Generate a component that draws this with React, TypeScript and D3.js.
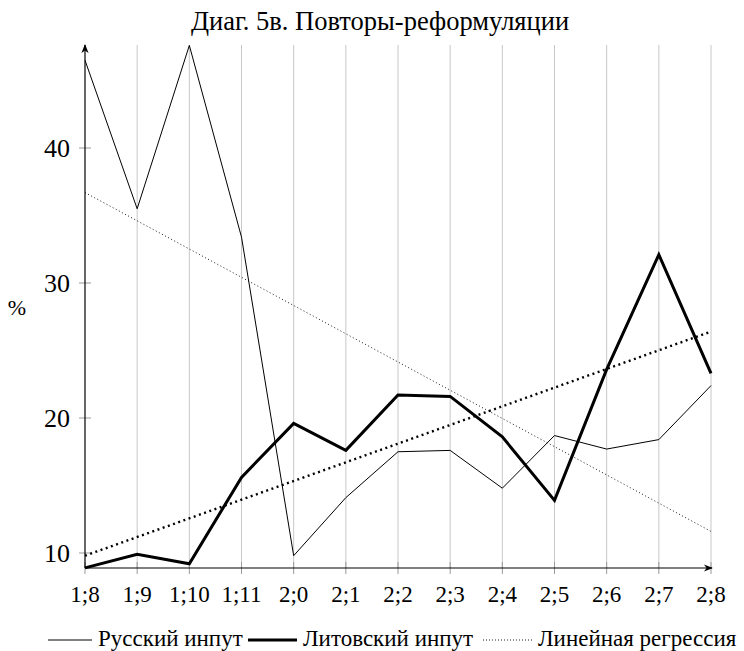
import { useEffect, useRef } from 'react'
import * as d3 from 'd3'

// Ages (years;months) along the x axis
const ages = ['1;8', '1;9', '1;10', '1;11', '2;0', '2;1', '2;2', '2;3', '2;4', '2;5', '2;6', '2;7', '2;8']

// Share of repetition-reformulations, %
const russian = [46.5, 35.5, 47.6, 33.4, 9.8, 14.1, 17.5, 17.6, 14.8, 18.7, 17.7, 18.4, 22.4]
const lithuanian = [8.9, 9.9, 9.2, 15.6, 19.6, 17.6, 21.7, 21.6, 18.6, 13.9, 23.6, 32.1, 23.3]

// Regression lines, read at the first and last age
const russianTrend = [36.7, 11.6]
const lithuanianTrend = [9.8, 26.4]

const yTicks = [10, 20, 30, 40]

const title = 'Диаг. 5в. Повторы-реформуляции'
const legendItems = ['Русский инпут', 'Литовский инпут', 'Линейная регрессия']

const FONT = '"Liberation Serif", "DejaVu Serif", serif'

export default function App() {
  const svgRef = useRef<SVGSVGElement | null>(null)

  useEffect(() => {
    if (!svgRef.current) return
    const width = 744
    const height = 651

    const svg = d3.select(svgRef.current)
    svg.selectAll('*').remove()
    svg.attr('width', width).attr('height', height).attr('viewBox', `0 0 ${width} ${height}`)

    const x = d3.scalePoint<string>().domain(ages).range([85, 711])
    const y = d3.scaleLinear().domain([10, 40]).range([553, 148])
    const yBottom = 568
    const yTop = 45

    const defs = svg.append('defs')
    defs.append('marker')
      .attr('id', 'arrow')
      .attr('viewBox', '0 0 10 10')
      .attr('refX', 9).attr('refY', 5)
      .attr('markerWidth', 9).attr('markerHeight', 9)
      .attr('markerUnits', 'userSpaceOnUse')
      .attr('orient', 'auto')
      .append('path')
      .attr('d', 'M0,1 L10,5 L0,9 L3,5 Z')
      .attr('fill', '#000')

    // Title
    svg.append('text')
      .attr('x', 380).attr('y', 30)
      .attr('text-anchor', 'middle')
      .attr('font-family', FONT)
      .attr('font-size', 26.5)
      .text(title)

    // Vertical grid
    svg.append('g')
      .selectAll('line')
      .data(ages.slice(1))
      .enter().append('line')
      .attr('x1', d => x(d)!).attr('x2', d => x(d)!)
      .attr('y1', yTop).attr('y2', yBottom)
      .attr('stroke', '#c8c8c8')
      .attr('stroke-width', 1)

    // Ticks
    svg.append('g')
      .selectAll('line')
      .data(yTicks)
      .enter().append('line')
      .attr('x1', 79).attr('x2', 91)
      .attr('y1', d => y(d)).attr('y2', d => y(d))
      .attr('stroke', '#999')
    svg.append('g')
      .selectAll('line')
      .data(ages)
      .enter().append('line')
      .attr('x1', d => x(d)!).attr('x2', d => x(d)!)
      .attr('y1', yBottom - 6).attr('y2', yBottom + 6)
      .attr('stroke', '#999')

    // Axes
    svg.append('line')
      .attr('x1', 85).attr('x2', 85)
      .attr('y1', yBottom).attr('y2', yTop)
      .attr('stroke', '#000').attr('stroke-width', 1.2)
      .attr('marker-end', 'url(#arrow)')
    svg.append('line')
      .attr('x1', 85).attr('x2', 712)
      .attr('y1', yBottom).attr('y2', yBottom)
      .attr('stroke', '#000').attr('stroke-width', 1.2)
      .attr('marker-end', 'url(#arrow)')

    // Tick labels
    svg.append('g')
      .selectAll('text')
      .data(yTicks)
      .enter().append('text')
      .attr('x', 70).attr('y', d => y(d))
      .attr('dy', '0.34em')
      .attr('text-anchor', 'end')
      .attr('font-family', FONT)
      .attr('font-size', 26)
      .text(d => d)
    svg.append('g')
      .selectAll('text')
      .data(ages)
      .enter().append('text')
      .attr('x', d => x(d)!).attr('y', 602)
      .attr('text-anchor', 'middle')
      .attr('font-family', FONT)
      .attr('font-size', 23)
      .text(d => d)

    svg.append('text')
      .attr('x', 17).attr('y', 315)
      .attr('text-anchor', 'middle')
      .attr('font-family', FONT)
      .attr('font-size', 22)
      .text('%')

    const line = d3.line<number>()
      .x((_, i) => x(ages[i])!)
      .y(d => y(d))

    const trendLine = d3.line<number>()
      .x((_, i) => (i === 0 ? x(ages[0])! : x(ages[ages.length - 1])!))
      .y(d => y(d))

    svg.append('path')
      .attr('d', trendLine(russianTrend)!)
      .attr('fill', 'none')
      .attr('stroke', '#000')
      .attr('stroke-width', 0.9)
      .attr('stroke-dasharray', '1,2.5')

    svg.append('path')
      .attr('d', trendLine(lithuanianTrend)!)
      .attr('fill', 'none')
      .attr('stroke', '#000')
      .attr('stroke-width', 2.4)
      .attr('stroke-dasharray', '2,3.5')

    svg.append('path')
      .attr('d', line(russian)!)
      .attr('fill', 'none')
      .attr('stroke', '#000')
      .attr('stroke-width', 1)

    svg.append('path')
      .attr('d', line(lithuanian)!)
      .attr('fill', 'none')
      .attr('stroke', '#000')
      .attr('stroke-width', 3)
      .attr('stroke-linejoin', 'miter')

    // Legend
    const legendY = 646
    const samples = [
      { x1: 48, x2: 92, w: 1, dash: null as string | null, tx: 98 },
      { x1: 248, x2: 297, w: 3, dash: null as string | null, tx: 303 },
      { x1: 483, x2: 532, w: 0.9, dash: '1,2', tx: 538 },
    ]
    const lg = svg.append('g')
    samples.forEach((s, i) => {
      const l = lg.append('line')
        .attr('x1', s.x1).attr('x2', s.x2)
        .attr('y1', legendY - 6).attr('y2', legendY - 6)
        .attr('stroke', '#000')
        .attr('stroke-width', s.w)
      if (s.dash) l.attr('stroke-dasharray', s.dash)
      lg.append('text')
        .attr('x', s.tx).attr('y', legendY)
        .attr('font-family', FONT)
        .attr('font-size', 23)
        .text(legendItems[i])
    })
  }, [])

  return <svg ref={svgRef} style={{ position: 'absolute', left: 0, top: 0 }} />
}
